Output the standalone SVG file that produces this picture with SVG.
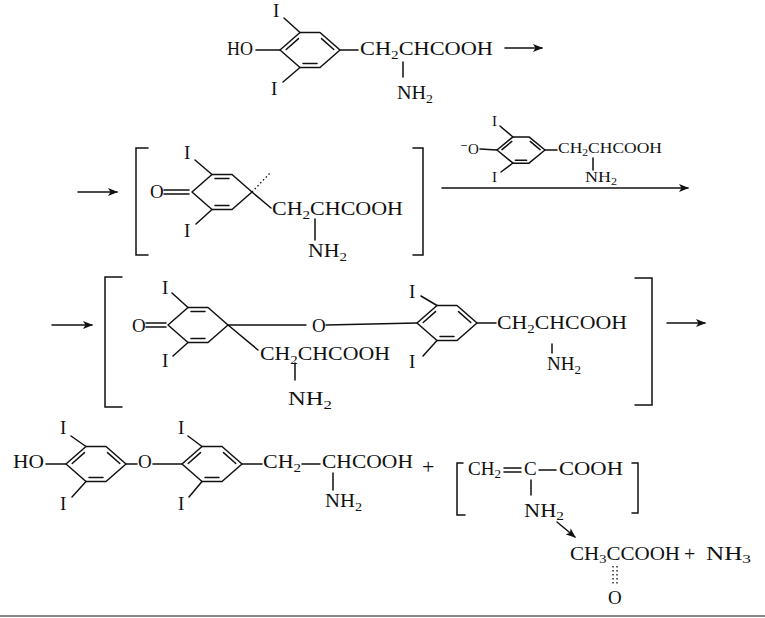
<svg xmlns="http://www.w3.org/2000/svg" xmlns:xlink="http://www.w3.org/1999/xlink" width="765" height="618" viewBox="0 0 765 618">
<style>
.b{stroke:#111;stroke-width:1.5;fill:none;stroke-linecap:round}
.dot{stroke:#111;stroke-width:1.3;fill:none;stroke-dasharray:1.5 2.5}
.t{font-family:"Liberation Serif","Times New Roman","DejaVu Serif",serif;font-size:19px;fill:#111}
.m{font-size:15px}
.s{font-size:13px}
.ss{font-size:10px}
.ring{stroke:#111;stroke-width:1.5;fill:none;stroke-linecap:round;stroke-linejoin:round}
</style>
<defs>
<marker id="ah" viewBox="0 0 10 8" refX="9" refY="4" markerWidth="10" markerHeight="8" orient="auto" markerUnits="userSpaceOnUse">
<path d="M0,0 L10,4 L0,8 L2.5,4 z" fill="#111"/>
</marker>
<g id="benz">
<path class="ring" vector-effect="non-scaling-stroke" d="M-30,0 L-10,-17.5 L10,-17.5 L30,0 L10,17.5 L-10,17.5 Z"/>
<path class="ring" vector-effect="non-scaling-stroke" d="M-23.8,-0.5 L-11.5,-11.4 M11.5,-11.4 L23.8,-0.5 M-7,13.5 L7,13.5"/>
</g>
<g id="quin">
<path class="ring" vector-effect="non-scaling-stroke" d="M-30,0 L-10,-17.5 L10,-17.5 L30,0 L10,17.5 L-10,17.5 Z"/>
<path class="ring" vector-effect="non-scaling-stroke" d="M-7,-13.5 L7,-13.5 M-7,13.5 L7,13.5"/>
</g>
</defs>
<rect width="765" height="618" fill="#fff"/>

<!-- Row 1: diiodotyrosine -->
<g id="diiodotyrosine">
<use xlink:href="#benz" href="#benz" transform="translate(310,50)"/>
<path class="b" d="M256,50 L280,50 M284,18 L300,32.5 M300,67.5 L283,82 M340,50 L358,50 M403,62 L403,77"/>
<text class="t" x="227" y="55" textLength="26" lengthAdjust="spacingAndGlyphs">HO</text>
<text class="t" x="273" y="17">I</text>
<text class="t" x="271" y="95">I</text>
<text class="t" x="360" y="55" textLength="133" lengthAdjust="spacingAndGlyphs">CH<tspan class="s" dy="4">2</tspan><tspan dy="-4">CHCOOH</tspan></text>
<text class="t" x="397" y="99" textLength="36" lengthAdjust="spacingAndGlyphs">NH<tspan class="s" dy="4">2</tspan></text>
</g>

<!-- Row 2: quinoid radical intermediate -->
<g id="quinoid-intermediate">
<path class="b" d="M148,148 H136 V255 H148 M413,148 H423 V255 H413"/>
<use xlink:href="#quin" href="#quin" transform="translate(222,192)"/>
<path class="b" d="M164,190 L189,190 M164,194 L189,194 M195,160 L212,174.5 M212,209.5 L196,224 M252,192 L271,208 M315,219 L315,240"/>
<path class="dot" d="M252,192 L271,172"/>
<text class="t" x="150" y="198">O</text>
<text class="t" x="184" y="159">I</text>
<text class="t" x="184" y="237">I</text>
<text class="t" x="272" y="215" textLength="131" lengthAdjust="spacingAndGlyphs">CH<tspan class="s" dy="4">2</tspan><tspan dy="-4">CHCOOH</tspan></text>
<text class="t" x="308" y="257" textLength="39" lengthAdjust="spacingAndGlyphs">NH<tspan class="s" dy="4">2</tspan></text>
</g>

<!-- Reagent above arrow: phenoxide of diiodotyrosine -->
<g id="phenoxide-reagent">
<use xlink:href="#benz" href="#benz" transform="translate(521,150) scale(0.8,0.75)"/>
<path class="b" d="M480,149 L497,150 M500,126 L513,137 M513,163 L501,172 M545,150 L557,150 M593,158 L593,170"/>
<text class="t m" x="460" y="154">⁻O</text>
<text class="t m" x="492" y="126">I</text>
<text class="t m" x="492" y="182">I</text>
<text class="t m" x="558" y="153" textLength="104" lengthAdjust="spacingAndGlyphs">CH<tspan class="ss" dy="3">2</tspan><tspan dy="-3">CHCOOH</tspan></text>
<text class="t m" x="585" y="182" textLength="32" lengthAdjust="spacingAndGlyphs">NH<tspan class="ss" dy="3">2</tspan></text>
</g>

<!-- Row 3: coupled ether intermediate -->
<g id="ether-intermediate">
<path class="b" d="M122,277 H105 V407 H122 M635,278 H652 V405 H635"/>
<use xlink:href="#quin" href="#quin" transform="translate(198,325)"/>
<use xlink:href="#benz" href="#benz" transform="translate(447,323)"/>
<path class="b" d="M146,323 L166,323 M146,327 L166,327 M172,293 L188,307.5 M188,342.5 L173,356 M228,325 L306,325 M326,325 L417,323 M228,325 L258,350 M295,363 L295,380 M421,296 L437,305.5 M437,340.5 L423,356 M477,323 L496,323 M552,344 L552,353"/>
<text class="t" x="132" y="332">O</text>
<text class="t" x="162" y="294">I</text>
<text class="t" x="162" y="367">I</text>
<text class="t" x="312" y="332">O</text>
<text class="t" x="260" y="360" textLength="130" lengthAdjust="spacingAndGlyphs">CH<tspan class="s" dy="4">2</tspan><tspan dy="-4">CHCOOH</tspan></text>
<text class="t" x="288" y="405" textLength="44" lengthAdjust="spacingAndGlyphs">NH<tspan class="s" dy="4">2</tspan></text>
<text class="t" x="409" y="298">I</text>
<text class="t" x="409" y="368">I</text>
<text class="t" x="497" y="329" textLength="130" lengthAdjust="spacingAndGlyphs">CH<tspan class="s" dy="4">2</tspan><tspan dy="-4">CHCOOH</tspan></text>
<text class="t" x="547" y="370" textLength="34" lengthAdjust="spacingAndGlyphs">NH<tspan class="s" dy="4">2</tspan></text>
</g>

<!-- Row 4: thyroxine -->
<g id="thyroxine">
<use xlink:href="#benz" href="#benz" transform="translate(96,464)"/>
<use xlink:href="#benz" href="#benz" transform="translate(212,464)"/>
<path class="b" d="M46,464 L66,464 M71,436 L86,446.5 M86,481.5 L72,497 M126,464 L137,464 M153,464 L182,464 M188,436 L202,446.5 M202,481.5 L189,497 M242,464 L262,464 M302,464 L320,464 M333,473 L333,490"/>
<text class="t" x="13" y="468" textLength="31" lengthAdjust="spacingAndGlyphs">HO</text>
<text class="t" x="60" y="434">I</text>
<text class="t" x="60" y="510">I</text>
<text class="t" x="138" y="468">O</text>
<text class="t" x="178" y="434">I</text>
<text class="t" x="178" y="510">I</text>
<text class="t" x="263" y="468" textLength="38" lengthAdjust="spacingAndGlyphs">CH<tspan class="s" dy="4">2</tspan></text>
<text class="t" x="322" y="468" textLength="91" lengthAdjust="spacingAndGlyphs">CHCOOH</text>
<text class="t" x="325" y="507" textLength="37" lengthAdjust="spacingAndGlyphs">NH<tspan class="s" dy="4">2</tspan></text>
</g>
<text class="t" x="422" y="474" style="font-size:22px">+</text>

<!-- Aminoacrylic acid (bracketed) -->
<g id="aminoacrylic-acid">
<path class="b" d="M463,463 H457 V515 H465 M632,463 H638 V513 H632"/>
<path class="b" d="M504,468 L521,468 M504,472 L521,472 M539,470 L556,470 M531,480 L531,495"/>
<text class="t" x="468" y="475" textLength="33" lengthAdjust="spacingAndGlyphs">CH<tspan class="s" dy="3">2</tspan></text>
<text class="t" x="524" y="475">C</text>
<text class="t" x="559" y="475" textLength="64" lengthAdjust="spacingAndGlyphs">COOH</text>
<text class="t" x="524" y="517" textLength="40" lengthAdjust="spacingAndGlyphs">NH<tspan class="s" dy="3">2</tspan></text>
</g>

<!-- Pyruvic acid + ammonia -->
<g id="pyruvic-acid">
<text class="t" x="570" y="560" textLength="110" lengthAdjust="spacingAndGlyphs">CH<tspan class="s" dy="3">3</tspan><tspan dy="-3">CCOOH</tspan></text>
<path class="dot" d="M613,566 L613,585 M617,566 L617,585"/>
<text class="t" x="608" y="604">O</text>
</g>
<text class="t" x="684" y="561" style="font-size:20px">+</text>
<g id="ammonia">
<text class="t" x="706" y="560" textLength="45" lengthAdjust="spacingAndGlyphs">NH<tspan class="s" dy="3">3</tspan></text>
</g>

<!-- Reaction arrows -->
<g id="connectors">
<path class="b" marker-end="url(#ah)" d="M505,48 L542,48"/>
<path class="b" marker-end="url(#ah)" d="M78,192 L117,192"/>
<path class="b" marker-end="url(#ah)" d="M442,188 L688,188"/>
<path class="b" marker-end="url(#ah)" d="M52,325 L92,325"/>
<path class="b" marker-end="url(#ah)" d="M667,323 L705,323"/>
<path class="b" marker-end="url(#ah)" d="M557,522 L575,537"/>
</g>

<line x1="0" y1="616" x2="765" y2="616" stroke="#888" stroke-width="2"/>
</svg>
